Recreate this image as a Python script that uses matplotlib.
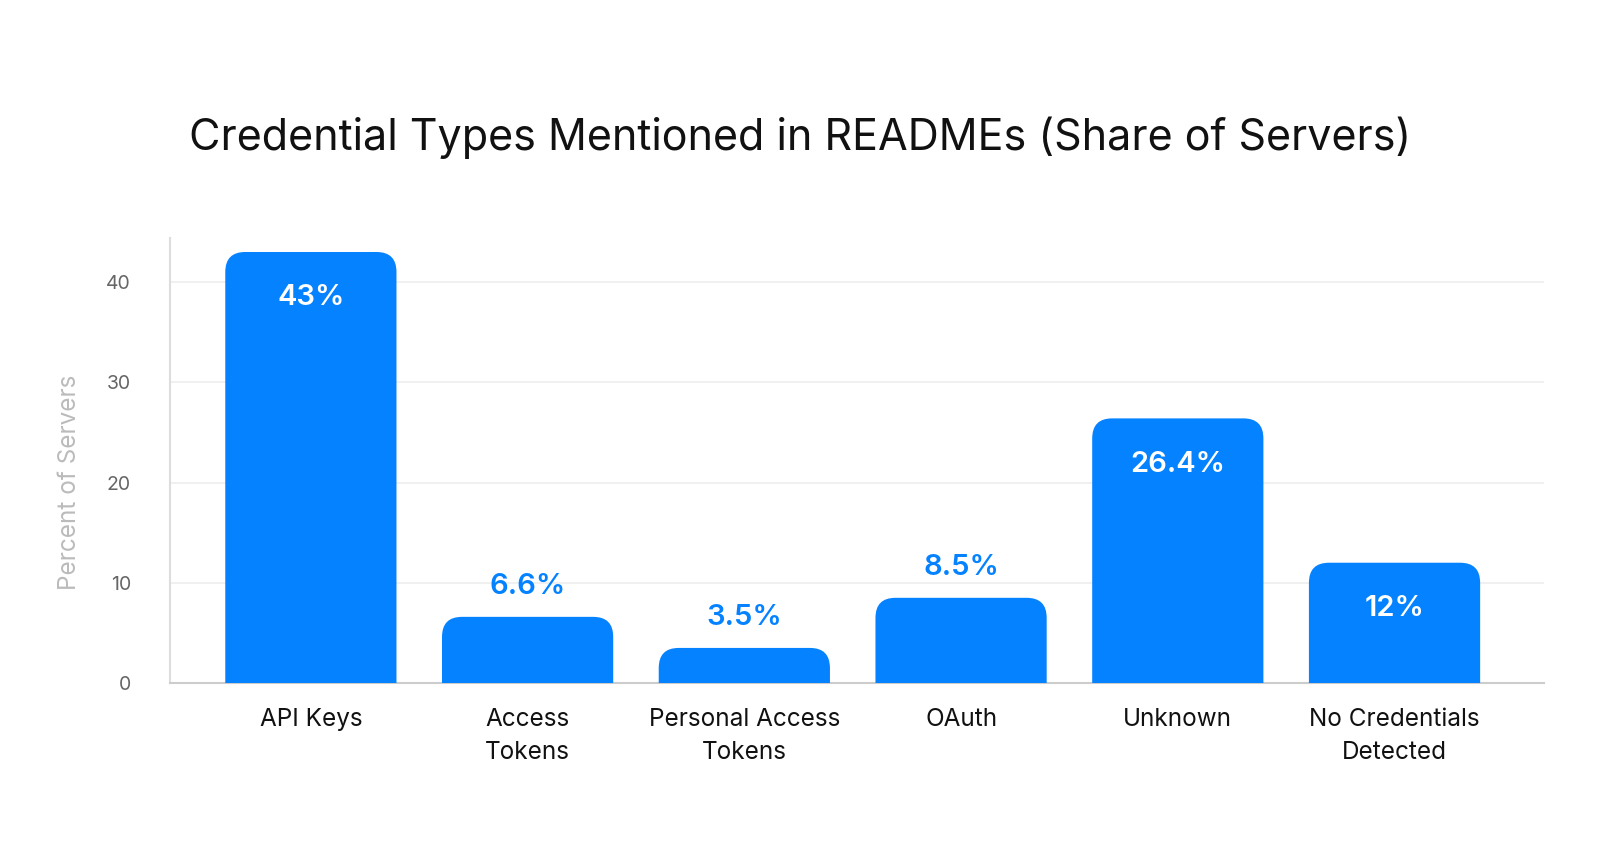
import matplotlib
matplotlib.use("Agg")
import matplotlib.pyplot as plt
from matplotlib.patches import FancyBboxPatch

plt.rcParams['font.family'] = ['Inter', 'DejaVu Sans']

categories = ["API Keys", "Access\nTokens", "Personal Access\nTokens", "OAuth", "Unknown", "No Credentials\nDetected"]
shares = [43, 6.6, 3.5, 8.5, 26.4, 12]
share_labels = ["43%", "6.6%", "3.5%", "8.5%", "26.4%", "12%"]

blue = "#0582FF"

fig = plt.figure(figsize=(16, 8.6), dpi=100)
ax = fig.add_axes([0.10625, 0.2058, 0.8588, 0.5175])

bars = ax.bar(range(len(shares)), shares, width=0.79, color="none")
ax.set_xlim(-0.65, 5.69)
ax.set_ylim(0, 44.4)

# rounded tops: draw the box from below zero so the bottom corners get clipped
for b in bars:
    x, w, h = b.get_x(), b.get_width(), b.get_height()
    p = FancyBboxPatch((x, -4), w, h + 4, boxstyle="round,pad=0,rounding_size=0.092",
                       mutation_aspect=2.0 / 0.092, facecolor=blue, edgecolor="none",
                       zorder=3)
    ax.add_patch(p)

for i, (v, lab) in enumerate(zip(shares, share_labels)):
    if v >= 10:
        ax.annotate(lab, (i, v), xytext=(0, -33), textcoords="offset points",
                    ha="center", va="center", color="white", fontsize=21,
                    fontweight="semibold", zorder=4)
    else:
        ax.annotate(lab, (i, v), xytext=(0, 22), textcoords="offset points",
                    ha="center", va="center", color=blue, fontsize=21,
                    fontweight="semibold", zorder=4)

ax.set_yticks([0, 10, 20, 30, 40])
ax.yaxis.grid(True, color="#eeeeee", linewidth=1.2)
ax.set_axisbelow(True)
ax.set_xticks(range(len(categories)))
ax.set_xticklabels(categories, fontsize=17.5, color="#111111", linespacing=1.55)
ax.tick_params(axis="x", length=0, pad=18)
ax.tick_params(axis="y", length=0, pad=28, labelsize=14, labelcolor="#666666")

for s in ["top", "right"]:
    ax.spines[s].set_visible(False)
ax.spines["left"].set_color("#dddddd")
ax.spines["bottom"].set_color("#cccccc")
ax.spines["left"].set_linewidth(1.5)
ax.spines["bottom"].set_linewidth(1.5)

ax.set_ylabel("Percent of Servers", fontsize=17.5, color="#bbbbbb")
ax.yaxis.set_label_coords(-0.065, 0.45)

fig.text(0.5, 0.84, "Credential Types Mentioned in READMEs (Share of Servers)",
         ha="center", va="center", fontsize=31, color="#111111")

fig.savefig("out.png", dpi=100, facecolor="white")
